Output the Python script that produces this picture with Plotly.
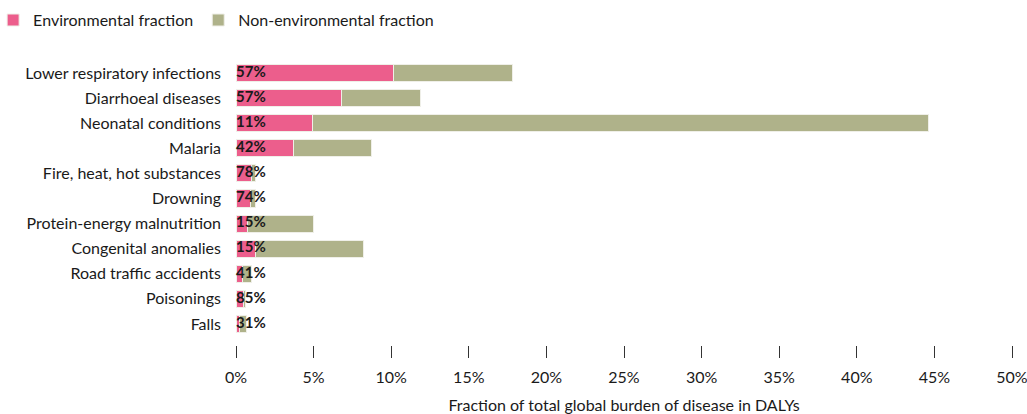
import plotly.graph_objects as go

# Causes of disease, top to bottom
causes = [
    "Lower respiratory infections",
    "Diarrhoeal diseases",
    "Neonatal conditions",
    "Malaria",
    "Fire, heat, hot substances",
    "Drowning",
    "Protein-energy malnutrition",
    "Congenital anomalies",
    "Road traffic accidents",
    "Poisonings",
    "Falls",
]

# Share of the total global burden of disease (DALYs), in percent
total_burden = [17.8, 11.9, 44.6, 8.75, 1.25, 1.26, 5.0, 8.2, 1.0, 0.6, 0.7]

# Environmental fraction of each cause, in percent
env_fraction = [57, 57, 11, 42, 78, 74, 15, 15, 41, 85, 31]

x_ticks = [0, 5, 10, 15, 20, 25, 30, 35, 40, 45, 50]

env_part = [t * f / 100 for t, f in zip(total_burden, env_fraction)]
non_env_part = [t - e for t, e in zip(total_burden, env_part)]

FONT = "Lato, Roboto, sans-serif"
INK = "#1a1a1a"
PINK = "#EC5E8C"
OLIVE = "#AFB28A"
EDGE = "#EFEFE8"

fig = go.Figure()
fig.add_trace(go.Bar(
    name="Environmental fraction",
    y=causes, x=env_part, orientation="h",
    marker=dict(color=PINK, line=dict(color=EDGE, width=1)),
    width=0.68, hoverinfo="skip",
))
fig.add_trace(go.Bar(
    name="Non-environmental fraction",
    y=causes, x=non_env_part, orientation="h",
    marker=dict(color=OLIVE, line=dict(color=EDGE, width=1)),
    width=0.68, hoverinfo="skip",
))
# Environmental share labels at the start of each bar
fig.add_trace(go.Scatter(
    y=causes, x=[0] * len(causes), mode="text",
    text=["<b>%d%%</b>" % f for f in env_fraction],
    textposition="middle right",
    textfont=dict(family=FONT, size=15, color=INK),
    showlegend=False, hoverinfo="skip", cliponaxis=False,
))

fig.update_layout(
    template="none",
    barmode="stack",
    width=1027, height=414,
    margin=dict(l=236, r=15, t=61, b=69, autoexpand=False),
    paper_bgcolor="white", plot_bgcolor="white",
    font=dict(family=FONT, size=16, color=INK),
    legend=dict(
        orientation="h", x=-0.313, y=1.144, xanchor="left", yanchor="middle",
        font=dict(family=FONT, size=16, color=INK),
        itemwidth=30, traceorder="normal", tracegroupgap=0,
        bgcolor="rgba(0,0,0,0)",
    ),
    xaxis=dict(
        range=[0, 50], tickvals=x_ticks,
        ticktext=["%d%%" % v for v in x_ticks],
        showgrid=False, zeroline=False, showline=False,
        ticks="outside", ticklen=12, tickcolor="#333333", tickwidth=1,
        ticklabeloverflow="allow", automargin=False, ticklabelstandoff=6,
        tickfont=dict(family=FONT, size=16, color=INK),
        title=dict(text="Fraction of total global burden of disease in DALYs",
                   font=dict(family=FONT, size=16, color=INK), standoff=16),
    ),
    yaxis=dict(
        categoryorder="array", categoryarray=causes,
        range=[10.84, -0.48], automargin=False,
        showgrid=False, zeroline=False, showline=False, ticks="",
        ticklabelstandoff=14,
        tickfont=dict(family=FONT, size=16, color=INK),
    ),
)

fig.write_html("out.html")
